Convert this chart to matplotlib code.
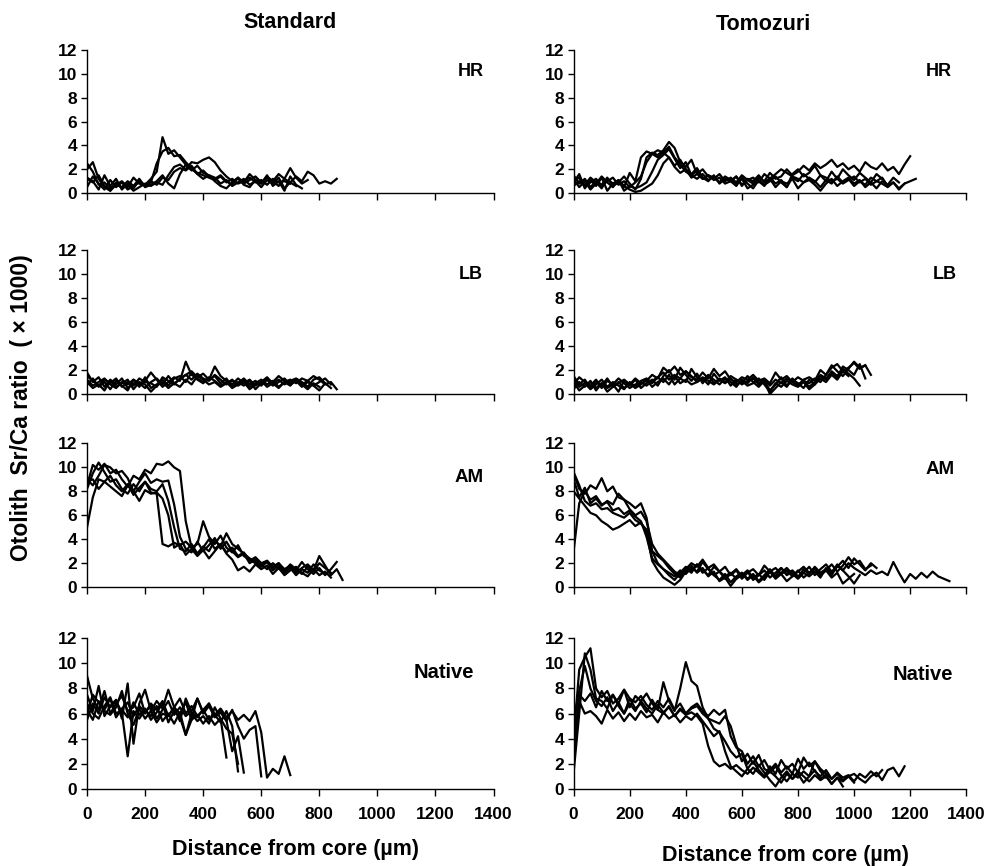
import numpy as np
import matplotlib
matplotlib.use("Agg")
import matplotlib.pyplot as plt

# ---------------------------
# Data: otolith Sr/Ca (x1000) transects, one value every STEP um from the core
# ---------------------------
STEP = 20

# Standard / HR
hr_std_1 = [2.5, 1.8, 0.7, 0.9, 0.4, 0.8, 0.5, 1.0, 0.6, 0.9, 0.7, 1.2, 1.8, 4.7, 3.3, 3.6, 3.0, 2.4, 2.0, 1.7,
            1.5, 1.3, 1.1, 1.4, 0.9, 1.2, 0.8, 1.0, 1.3, 0.9, 1.1, 0.7, 1.2, 0.9, 1.0, 0.8]
hr_std_2 = [1.3, 1.0, 0.3, 1.5, 0.6, 1.2, 0.3, 0.8, 0.4, 1.1, 0.6, 0.9, 2.5, 3.5, 3.8, 3.1, 3.2, 2.6, 2.1, 1.6,
            1.9, 1.4, 1.2, 1.5, 1.0, 0.7, 1.3, 0.9, 1.6, 1.1, 0.8, 1.4, 1.0, 0.6, 1.2, 2.1, 1.3, 0.8, 1.1]
hr_std_3 = [2.0, 2.6, 1.2, 0.5, 0.2, 0.9, 0.4, 0.7, 0.2, 0.5, 0.8, 0.6, 0.9, 0.7, 1.5, 2.2, 2.4, 2.0, 2.6, 2.5,
            2.8, 3.0, 2.6, 1.9, 1.4, 1.0, 1.2, 0.8, 1.1, 1.4, 0.9, 1.3, 1.0, 1.6, 1.2, 0.9, 1.4, 1.0, 1.8, 1.5,
            0.8, 1.0, 0.8, 1.2]
hr_std_4 = [0.5, 1.4, 0.8, 0.3, 1.1, 0.5, 0.9, 0.3, 0.6, 1.2, 0.5, 0.7, 1.0, 1.5, 0.8, 0.4, 1.6, 2.4, 1.9, 2.3,
            1.7, 1.5, 1.0, 0.6, 0.4, 0.9, 1.3, 0.7, 0.5, 1.1, 0.8, 1.5, 0.6, 1.0, 0.2, 1.4, 0.7, 0.4]
hr_std_5 = [1.2, 0.9, 1.5, 0.6, 0.2, 0.7, 1.0, 0.5, 1.3, 0.8, 0.6, 1.0, 0.7, 1.3, 1.1, 1.8, 2.1, 1.9, 2.3, 1.6,
            1.2, 1.5, 1.3, 0.8, 1.1, 0.6, 0.9, 1.2, 0.7, 1.0, 0.5, 1.1, 0.8, 1.3, 0.4, 0.9, 0.6]

# Tomozuri / HR
hr_tom_1 = [1.5, 0.8, 1.2, 0.5, 1.0, 0.7, 1.3, 0.6, 0.9, 1.4, 0.8, 0.3, 1.2, 3.0, 3.4, 3.2, 3.6, 4.3, 3.8, 2.6,
            2.2, 2.8, 1.6, 2.0, 1.4, 1.2, 1.6, 1.0, 1.3, 0.9, 1.5, 1.1, 0.8, 1.3, 1.0, 1.7, 1.2, 1.4, 2.0, 1.5,
            1.8, 2.3, 1.9, 2.5, 2.1, 2.4, 2.8, 2.2, 2.5, 2.0, 2.3, 1.8, 2.6, 2.2, 2.0, 2.5, 1.9, 2.2, 1.6, 2.4, 3.1]
hr_tom_2 = [0.9, 1.6, 0.4, 1.1, 0.6, 1.3, 0.2, 0.8, 1.0, 0.5, 1.7, 1.0, 3.0, 3.5, 3.3, 3.6, 3.4, 3.9, 3.0, 2.4,
            1.8, 1.5, 1.2, 1.6, 1.1, 1.4, 0.9, 1.2, 1.0, 0.6, 1.3, 0.8, 0.4, 1.1, 0.7, 1.0, 1.4, 0.9, 0.5, 1.3,
            1.0, 1.6, 1.2, 0.9, 1.5, 1.3, 1.0, 1.2, 0.8, 1.1, 1.4, 0.9, 1.2, 0.7, 1.0, 1.3, 0.6, 0.9, 0.4, 0.8,
            1.0, 1.2]
hr_tom_3 = [1.2, 0.5, 1.0, 0.3, 0.8, 1.4, 0.9, 0.5, 1.1, 0.2, 0.6, 0.4, 0.6, 0.9, 1.8, 2.8, 3.2, 3.7, 2.9, 2.1,
            2.6, 1.5, 1.9, 1.2, 1.5, 1.3, 0.9, 1.4, 1.1, 0.8, 1.2, 0.4, 0.7, 1.0, 0.6, 1.3, 0.8, 1.1, 0.5, 1.6,
            2.0, 1.4, 1.7, 2.3, 1.5, 1.0, 1.8, 1.2, 2.0, 1.5, 1.1, 1.7, 1.3, 0.9, 1.6, 1.2]
hr_tom_4 = [0.6, 1.0, 0.7, 1.3, 0.9, 0.4, 1.2, 0.8, 1.1, 0.6, 0.3, 0.1, 0.2, 0.5, 0.8, 1.5, 2.5, 3.0, 2.3, 2.8,
            2.0, 1.6, 2.1, 1.3, 1.0, 1.5, 0.8, 1.2, 1.0, 1.4, 0.7, 1.1, 1.3, 0.9, 1.6, 1.2, 0.5, 1.0, 0.8, 1.2,
            0.4, 0.9, 1.1, 0.7, 0.2, 0.8, 1.2, 0.6, 1.0, 1.3, 0.8, 1.1, 0.5, 0.9, 0.4, 1.0, 0.7, 1.3, 0.9]
hr_tom_5 = [1.0, 1.3, 0.5, 0.9, 1.2, 0.6, 1.0, 1.3, 0.7, 1.0, 0.5, 0.9, 1.4, 2.6, 3.3, 3.0, 3.4, 3.0, 2.2, 1.7,
            2.0, 1.3, 1.6, 1.2, 1.5, 1.1, 1.3, 0.8, 1.0, 1.4, 0.6, 1.2, 1.0, 1.5, 0.9, 1.2, 1.6, 2.0, 1.7, 1.4,
            1.2, 0.9, 1.3, 1.0, 0.5, 1.1, 0.8, 1.4, 0.9, 1.2, 0.6, 1.0, 0.7, 1.3, 1.0, 0.8, 0.5, 0.9, 0.3, 0.8]

# Standard / LB
lb_std_1 = [1.8, 1.0, 1.4, 0.6, 1.2, 0.8, 1.3, 0.5, 0.9, 0.7, 1.1, 1.8, 1.2, 0.6, 1.0, 1.4, 1.1, 2.7, 1.6, 1.3,
            1.0, 1.2, 2.3, 1.5, 1.1, 0.8, 1.3, 0.9, 1.2, 0.7, 1.0, 1.4, 0.9, 1.2, 0.8, 1.1, 1.3, 1.0, 0.6, 1.2,
            1.4, 0.9, 0.5]
lb_std_2 = [0.8, 1.3, 0.6, 1.0, 0.4, 1.1, 0.7, 0.3, 1.2, 0.9, 0.5, 1.0, 1.3, 0.8, 1.5, 0.9, 1.2, 1.6, 1.9, 1.4,
            1.7, 1.2, 1.5, 0.9, 1.3, 0.6, 1.0, 0.7, 1.1, 0.4, 0.9, 1.2, 0.7, 1.0, 1.3, 0.8, 1.1, 0.6, 1.0, 0.7,
            0.3, 0.9]
lb_std_3 = [1.2, 0.7, 1.0, 1.3, 0.8, 0.5, 1.0, 0.8, 1.2, 0.6, 1.4, 0.5, 0.8, 1.2, 0.7, 1.3, 1.5, 1.0, 1.8, 1.2,
            0.9, 1.4, 1.1, 0.7, 1.0, 0.5, 0.8, 1.1, 0.6, 0.9, 1.2, 0.8, 1.1, 0.6, 1.0, 1.2, 0.9, 1.3, 1.1, 0.7,
            1.0, 1.3, 0.8]
lb_std_4 = [1.0, 0.5, 0.8, 0.3, 1.1, 0.6, 0.9, 1.2, 0.4, 1.0, 0.8, 0.2, 0.7, 1.0, 0.5, 0.9, 0.6, 1.2, 0.8, 1.5,
            1.2, 0.8, 1.0, 0.6, 0.9, 1.2, 0.7, 1.0, 0.4, 0.8, 1.1, 0.6, 0.9, 0.5, 1.0, 0.7, 1.2, 0.8, 0.4, 0.9,
            0.6]
lb_std_5 = [1.5, 1.1, 0.7, 1.2, 0.9, 1.3, 0.6, 1.0, 0.7, 1.3, 1.0, 0.9, 0.6, 1.4, 1.1, 0.8, 1.3, 1.6, 1.2, 1.7,
            1.3, 1.1, 1.6, 1.2, 0.8, 1.1, 0.9, 1.3, 0.8, 1.1, 0.7, 1.2, 1.0, 1.5, 1.1, 0.9, 1.2, 0.8, 1.1, 1.5,
            1.2, 0.8, 1.0, 0.4]

# Tomozuri / LB
lb_tom_1 = [1.5, 0.8, 1.2, 0.5, 1.0, 0.7, 1.3, 0.6, 0.9, 1.2, 0.8, 1.3, 0.9, 1.1, 1.6, 1.3, 2.2, 1.8, 2.3, 1.6,
            1.9, 1.4, 1.2, 1.8, 1.3, 2.1, 1.5, 1.9, 1.2, 1.0, 1.4, 1.2, 1.6, 1.1, 1.3, 0.9, 1.8, 1.2, 1.5, 1.0,
            1.4, 1.1, 0.9, 1.3, 1.0, 1.6, 2.2, 2.5, 1.9, 2.2, 2.6, 2.1, 2.4]
lb_tom_2 = [0.4, 1.0, 0.6, 1.1, 0.3, 0.9, 0.5, 0.8, 0.2, 1.1, 0.7, 1.2, 0.5, 0.9, 1.2, 0.7, 1.5, 2.0, 1.2, 2.2,
            1.6, 1.1, 1.7, 0.9, 1.5, 1.2, 0.8, 1.3, 1.0, 0.6, 1.2, 0.9, 1.4, 0.8, 1.1, 0.3, 0.8, 1.4, 0.7, 1.2,
            0.9, 0.5, 1.2, 0.8, 1.6, 1.3, 1.8, 1.4, 2.3, 2.0, 1.6, 2.5, 1.3]
lb_tom_3 = [1.2, 0.6, 0.9, 0.4, 0.8, 1.2, 0.6, 1.0, 0.7, 0.4, 1.0, 0.6, 1.1, 1.3, 0.9, 1.4, 1.0, 1.6, 0.8, 1.3,
            1.9, 1.5, 1.0, 1.3, 0.8, 1.7, 1.1, 1.4, 0.7, 1.2, 0.9, 1.5, 1.0, 0.6, 1.1, 0.0, 0.5, 1.0, 0.6, 1.3,
            0.8, 1.1, 0.6, 1.0, 1.5, 1.2, 1.9, 1.5, 2.1, 1.7, 1.3, 0.7]
lb_tom_4 = [0.8, 1.4, 1.0, 0.7, 1.2, 0.5, 1.1, 0.8, 1.3, 0.9, 0.5, 0.8, 1.0, 0.7, 1.1, 1.4, 1.8, 1.2, 1.6, 1.3,
            1.0, 2.1, 1.4, 1.1, 1.6, 0.9, 1.3, 1.0, 1.5, 1.2, 0.8, 1.1, 1.3, 0.9, 1.2, 0.7, 1.2, 0.9, 1.3, 1.0,
            0.7, 1.2, 1.4, 1.1, 2.0, 1.6, 2.4, 1.9, 1.5, 2.1, 2.7, 2.2, 2.4, 1.6]
lb_tom_5 = [1.0, 0.3, 0.7, 1.0, 0.5, 0.9, 0.2, 0.6, 1.0, 0.5, 0.9, 0.5, 0.8, 1.2, 0.6, 1.0, 1.3, 0.8, 1.5, 0.9,
            1.2, 0.8, 1.0, 1.4, 1.1, 0.8, 1.2, 0.9, 1.3, 0.8, 1.1, 0.7, 0.9, 1.3, 0.8, 0.2, 0.9, 0.6, 1.1, 0.8,
            0.6, 1.0, 0.4, 0.8, 1.3, 1.0, 1.6, 1.2, 1.9, 1.5]

# Standard / AM
am_std_1 = [5.0, 7.5, 9.0, 8.8, 9.3, 8.5, 8.0, 8.6, 7.7, 8.3, 8.8, 8.2, 8.0, 8.6, 7.2, 5.0, 3.2, 3.0, 3.6, 2.8,
            3.3, 4.0, 3.2, 3.6, 2.9, 3.3, 2.6, 2.9, 2.2, 2.5, 2.0, 2.2, 1.7, 2.0, 1.5, 1.8, 1.2, 1.6, 1.9, 1.4,
            2.6, 1.8, 1.0, 1.5, 0.6]
am_std_2 = [8.2, 9.5, 10.4, 9.6, 8.8, 9.0, 8.2, 7.8, 8.6, 8.0, 8.8, 7.9, 7.8, 3.6, 3.4, 3.7, 3.5, 3.8, 3.3, 3.6,
            5.5, 4.2, 3.6, 4.3, 3.3, 2.9, 3.5, 2.6, 2.3, 2.0, 1.7, 2.1, 1.4, 1.8, 1.2, 1.6, 1.0, 1.5, 1.2, 1.9,
            1.4, 1.1]
am_std_3 = [8.5, 10.2, 9.8, 10.3, 9.5, 9.8, 9.0, 8.4, 9.3, 9.0, 9.8, 9.5, 10.3, 10.2, 10.5, 10.0, 9.7, 5.5, 3.3,
            2.8, 3.4, 3.0, 3.9, 3.4, 4.5, 3.6, 3.2, 2.8, 2.4, 2.1, 1.8, 2.2, 1.6, 2.0, 1.3, 1.9, 1.5, 1.1, 1.7,
            1.3, 2.0, 1.6, 1.2]
am_std_4 = [9.0, 8.5, 9.3, 10.2, 10.0, 9.5, 9.7, 9.1, 8.0, 8.8, 9.5, 8.7, 9.0, 8.8, 8.9, 6.9, 4.2, 3.2, 2.9, 3.8,
            3.0, 3.5, 4.1, 3.2, 3.8, 3.0, 2.5, 2.8, 2.0, 2.3, 1.9, 1.5, 2.0, 1.6, 1.2, 1.8, 1.4, 2.1, 1.5, 1.1,
            1.6, 1.0, 1.5, 2.1]
am_std_5 = [8.8, 9.0, 8.2, 8.8, 8.4, 8.0, 7.6, 8.5, 8.0, 7.2, 8.1, 7.8, 7.9, 7.4, 6.0, 3.3, 3.6, 2.7, 3.2, 2.6,
            3.1, 2.4, 3.0, 3.6, 2.8, 2.3, 1.4, 1.7, 1.3, 1.9, 1.5, 1.8, 1.1, 1.6, 1.0, 1.4, 1.7, 1.2, 0.9, 1.5,
            1.0, 1.3, 0.8]

# Tomozuri / AM
am_tom_1 = [3.0, 7.0, 8.0, 7.3, 7.6, 6.9, 7.1, 6.4, 6.6, 6.1, 6.4, 5.9, 5.5, 4.2, 2.4, 1.9, 1.5, 1.0, 0.6, 1.2,
            1.7, 1.4, 1.9, 1.2, 1.6, 1.0, 1.3, 0.7, 1.1, 1.5, 0.9, 1.3, 0.6, 1.0, 1.4, 0.8, 1.2, 1.6, 1.0, 1.3,
            0.8, 1.5, 1.1, 1.7, 1.2, 1.5, 1.0, 1.8, 1.4, 2.0, 1.6, 1.3, 1.0, 1.4, 1.1, 1.3, 1.0, 2.1, 1.2, 0.4,
            1.1, 0.7, 1.2, 0.8, 1.3, 0.9, 0.7, 0.5]
am_tom_2 = [9.5, 8.2, 7.8, 8.5, 8.2, 9.1, 8.0, 8.4, 7.5, 7.3, 7.0, 6.6, 7.0, 5.8, 3.0, 2.6, 2.2, 1.6, 1.1, 0.8,
            1.5, 2.0, 1.7, 2.3, 1.6, 1.9, 1.3, 1.7, 1.0, 1.4, 0.7, 1.2, 1.5, 1.0, 1.8, 1.3, 0.9, 1.6, 1.1, 1.4,
            0.9, 1.2, 1.7, 1.0, 1.5, 1.9, 1.3, 1.7, 2.2, 1.6, 2.4, 1.9, 1.4, 2.0, 1.6]
am_tom_3 = [8.0, 7.4, 6.8, 6.2, 6.0, 5.5, 5.2, 4.8, 5.0, 5.3, 5.6, 5.1, 5.4, 4.6, 2.2, 1.4, 0.8, 0.5, 0.2, 0.6,
            1.3, 1.8, 1.2, 1.6, 0.9, 1.3, 0.5, 0.8, 0.1, 0.7, 1.2, 0.6, 1.0, 0.4, 0.8, 1.3, 0.7, 1.1, 0.5, 0.9,
            1.4, 0.8, 1.2, 1.6, 1.0, 1.4, 0.8, 1.2, 0.3, 0.7, 1.1]
am_tom_4 = [9.0, 7.5, 8.3, 7.0, 7.4, 6.8, 7.2, 6.9, 7.8, 7.3, 6.5, 6.0, 6.3, 5.5, 3.6, 2.8, 2.3, 1.8, 1.3, 1.0,
            1.6, 1.2, 1.9, 1.4, 1.0, 1.7, 1.3, 0.9, 1.2, 0.7, 1.0, 1.4, 0.8, 1.1, 0.6, 1.3, 1.6, 1.1, 1.4, 0.9,
            1.3, 1.7, 1.2, 1.5, 1.0, 1.4, 1.9, 1.3, 1.8, 2.5, 1.9, 2.2, 1.5, 1.8]
am_tom_5 = [9.6, 8.5, 7.2, 6.8, 7.0, 6.5, 6.6, 6.2, 6.0, 5.8, 6.2, 5.6, 5.3, 4.8, 3.0, 2.0, 1.5, 1.2, 0.9, 1.4,
            1.1, 1.6, 1.3, 2.1, 1.5, 1.0, 0.6, 1.1, 0.4, 0.9, 1.2, 0.7, 1.1, 0.5, 1.0, 1.5, 0.9, 1.2, 1.6, 1.1,
            0.7, 1.2, 0.9, 1.3, 0.8, 1.6, 1.2, 1.9, 1.4, 0.9, 0.3, 1.0]

# Standard / Native
nat_std_1 = [9.0, 7.2, 6.3, 7.8, 6.0, 6.8, 7.4, 6.2, 6.5, 7.6, 6.0, 6.8, 6.3, 7.0, 5.8, 6.5, 7.2, 6.0, 6.6, 5.8,
             6.3, 6.8, 5.9, 6.4, 5.7, 6.2, 5.5, 5.9, 5.4, 6.2, 4.5, 0.9, 1.6, 1.2, 2.6, 1.1]
nat_std_2 = [5.5, 6.8, 6.0, 7.3, 6.5, 7.0, 6.1, 2.6, 6.2, 5.6, 6.3, 5.8, 6.6, 5.4, 6.0, 5.2, 6.1, 4.3, 5.5, 5.9,
             5.2, 5.8, 5.1, 5.6, 2.5]
nat_std_3 = [7.5, 6.2, 8.2, 5.8, 6.6, 7.1, 5.6, 8.4, 3.6, 6.8, 7.9, 6.2, 7.0, 6.4, 7.9, 6.5, 6.0, 6.9, 5.5, 7.2,
             6.1, 6.8, 5.8, 6.3, 5.5, 3.0, 4.2, 1.3]
nat_std_4 = [6.0, 7.5, 6.9, 6.3, 7.2, 5.7, 6.4, 6.9, 5.8, 6.6, 6.1, 6.7, 5.6, 6.3, 7.0, 5.9, 6.5, 5.8, 6.2, 7.2,
             6.0, 6.6, 5.7, 6.1, 5.4, 6.3, 5.0, 4.0, 4.7, 5.0, 1.0]
nat_std_5 = [6.3, 5.5, 7.0, 6.2, 5.9, 6.5, 7.8, 6.0, 5.1, 6.4, 5.6, 6.2, 5.3, 6.0, 5.8, 6.5, 5.4, 7.2, 6.1, 5.7,
             6.3, 5.5, 5.9, 5.3, 6.2, 5.0, 1.4]
nat_std_6 = [6.8, 6.0, 5.6, 6.6, 7.3, 6.0, 6.3, 5.7, 6.9, 5.9, 6.4, 5.5, 6.1, 6.8, 5.3, 6.2, 5.7, 4.3, 6.0, 5.4,
             5.8, 5.2, 6.5, 5.6, 4.8, 4.4, 2.0]

# Tomozuri / Native
nat_tom_1 = [1.3, 6.0, 10.8, 9.5, 7.2, 7.0, 6.4, 7.5, 6.6, 6.0, 6.8, 6.2, 7.0, 6.4, 6.0, 6.7, 6.1, 6.5, 5.8, 6.3,
             5.9, 6.1, 5.8, 5.2, 3.4, 2.2, 1.8, 2.0, 1.6, 1.9, 1.5, 1.2, 1.7, 1.3, 0.9, 1.4, 1.0, 0.5, 1.2, 0.8,
             1.4, 1.0, 0.6, 1.1, 0.7, 1.0, 0.4, 0.9, 0.6, 1.0, 1.2, 0.8, 0.5, 1.0, 1.3, 0.7, 1.5, 1.7, 1.0, 1.8]
nat_tom_2 = [4.0, 9.5, 10.5, 11.2, 8.0, 7.3, 7.8, 6.8, 7.2, 7.9, 6.5, 7.4, 7.0, 7.6, 6.8, 6.3, 8.5, 7.0, 6.2, 8.0,
             10.1, 8.6, 8.2, 6.5, 5.6, 4.8, 4.5, 3.8, 3.0, 2.5, 2.8, 1.6, 2.2, 1.5, 1.0, 1.8, 1.2, 2.3, 1.6, 2.0,
             1.3, 2.5, 1.8, 2.2, 1.4, 0.9]
nat_tom_3 = [5.5, 7.8, 9.8, 8.0, 7.0, 6.6, 7.3, 6.2, 6.9, 6.0, 7.2, 6.4, 6.8, 6.1, 7.1, 6.3, 6.0, 6.6, 5.8, 6.4,
             6.0, 6.5, 6.8, 6.2, 5.8, 6.3, 5.9, 6.3, 4.2, 3.3, 3.0, 2.0, 2.6, 1.8, 2.3, 1.5, 2.0, 1.3, 1.8, 1.2,
             2.4, 1.6, 2.1, 1.4, 1.0, 1.5, 0.8, 1.2, 0.7, 1.0, 0.5]
nat_tom_4 = [2.5, 7.0, 6.0, 6.2, 5.8, 5.2, 6.3, 5.6, 6.1, 5.4, 6.0, 5.5, 6.2, 5.7, 5.9, 5.3, 6.1, 5.6, 5.9, 5.3,
             5.8, 5.5, 6.0, 5.4, 4.8, 4.2, 4.6, 3.0, 1.8, 1.4, 1.0, 1.6, 1.2, 1.9, 1.3, 0.7, 0.2, 0.9, 1.4, 0.8,
             1.2, 0.5, 1.0, 1.5, 0.8, 1.1, 0.4, 0.9, 0.2]
nat_tom_5 = [3.0, 7.5, 7.0, 7.6, 6.5, 7.8, 7.0, 7.5, 6.8, 7.9, 7.2, 6.9, 7.4, 6.7, 6.3, 7.0, 6.5, 7.2, 6.3, 6.8,
             6.0, 6.4, 6.6, 6.0, 5.6, 5.4, 5.2, 5.8, 5.0, 3.5, 2.2, 2.8, 2.0, 2.7, 1.6, 1.3, 1.8, 1.1, 0.6, 1.2,
             0.9, 1.4, 1.0, 2.2, 1.6, 1.2, 0.8, 1.3, 0.9, 1.1, 0.6, 1.2, 0.9, 1.4, 1.0, 1.5]

col_titles = ["Standard", "Tomozuri"]
row_labels = ["HR", "LB", "AM", "Native"]
x_ticks = [0, 200, 400, 600, 800, 1000, 1200, 1400]
y_ticks = [0, 2, 4, 6, 8, 10, 12]

panels = {
    (0, 0): [hr_std_1, hr_std_2, hr_std_3, hr_std_4, hr_std_5],
    (0, 1): [hr_tom_1, hr_tom_2, hr_tom_3, hr_tom_4, hr_tom_5],
    (1, 0): [lb_std_1, lb_std_2, lb_std_3, lb_std_4, lb_std_5],
    (1, 1): [lb_tom_1, lb_tom_2, lb_tom_3, lb_tom_4, lb_tom_5],
    (2, 0): [am_std_1, am_std_2, am_std_3, am_std_4, am_std_5],
    (2, 1): [am_tom_1, am_tom_2, am_tom_3, am_tom_4, am_tom_5],
    (3, 0): [nat_std_1, nat_std_2, nat_std_3, nat_std_4, nat_std_5, nat_std_6],
    (3, 1): [nat_tom_1, nat_tom_2, nat_tom_3, nat_tom_4, nat_tom_5],
}

# ---------------------------
# Layout (figure fractions, measured off the original)
# ---------------------------
COL_X = [(0.088, 0.411), (0.580, 0.397)]
ROW_Y = [(0.777, 0.165), (0.545, 0.166), (0.322, 0.166), (0.089, 0.174)]
LABEL_POS = {
    (0, 0): (0.943, 0.85), (0, 1): (0.929, 0.85),
    (1, 0): (0.943, 0.83), (1, 1): (0.946, 0.83),
    (2, 0): (0.940, 0.76), (2, 1): (0.934, 0.82),
    (3, 0): (0.877, 0.77), (3, 1): (0.890, 0.76),
}
LABEL_SIZE = [13, 13, 13.5, 14.5]

plt.rcParams["font.family"] = ["Liberation Sans", "DejaVu Sans"]
plt.rcParams["font.weight"] = "bold"

fig = plt.figure(figsize=(9.89, 8.66), dpi=100)

for r in range(4):
    for c in range(2):
        left, width = COL_X[c]
        bottom, height = ROW_Y[r]
        ax = fig.add_axes([left, bottom, width, height])
        for series in panels[(r, c)]:
            dist = np.arange(len(series)) * STEP
            ax.plot(dist, series, color="black", lw=1.6)

        ax.set_xlim(0, 1400)
        ax.set_ylim(0, 12)
        ax.set_xticks(x_ticks)
        ax.set_yticks(y_ticks)
        for side in ["top", "right"]:
            ax.spines[side].set_visible(False)
        for side in ["left", "bottom"]:
            ax.spines[side].set_linewidth(1.0)
        ax.tick_params(axis="y", direction="out", length=4, width=1.0, pad=3, labelsize=12.5)
        ax.tick_params(axis="x", direction="out", length=5, width=1.0, pad=8, labelsize=12.5)
        for lab in ax.get_xticklabels() + ax.get_yticklabels():
            lab.set_fontweight("bold")
        if r < 3:
            ax.tick_params(axis="x", labelbottom=False)

        lx, ly = LABEL_POS[(r, c)]
        ax.text(lx, ly, row_labels[r], transform=ax.transAxes, ha="center", va="center",
                fontsize=LABEL_SIZE[r], fontweight="bold")

# column titles and shared axis labels
fig.text(290 / 989, 1 - 23 / 866, col_titles[0], ha="center", va="center", fontsize=15.5, fontweight="bold")
fig.text(763 / 989, 1 - 25 / 866, col_titles[1], ha="center", va="center", fontsize=15.5, fontweight="bold")
fig.text(295 / 989, 1 - 850 / 866, "Distance from core (\u00b5m)", ha="center", va="center",
         fontsize=15.5, fontweight="bold")
fig.text(786 / 989, 1 - 855 / 866, "Distance from core (\u00b5m)", ha="center", va="center",
         fontsize=15.5, fontweight="bold")
fig.text(22 / 989, 1 - 408 / 866, "Otolith  Sr/Ca ratio  ( \u00d7 1000)", ha="center", va="center",
         rotation=90, fontsize=16.5, fontweight="bold")

fig.savefig("out.png", dpi=100)
